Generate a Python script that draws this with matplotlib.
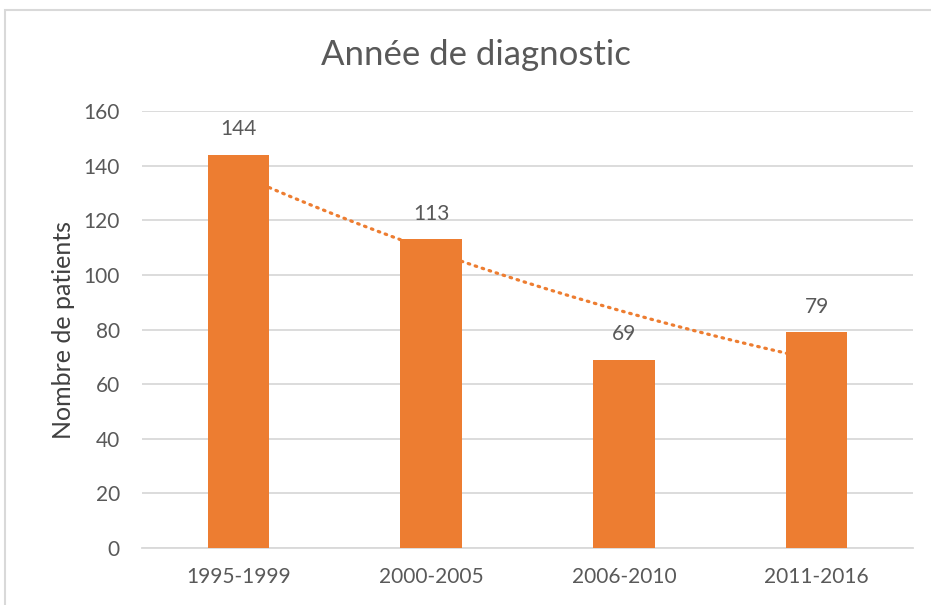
import numpy as np
import matplotlib.pyplot as plt
from matplotlib.patches import Rectangle

# data
periods = ["1995-1999", "2000-2005", "2006-2010", "2011-2016"]
patients = [144, 113, 69, 79]

orange = "#ED7D31"
grey_txt = "#595959"
grid_col = "#D9D9D9"
bar_w = 0.32

plt.rcParams["font.family"] = ["Lato", "DejaVu Sans"]

fig = plt.figure(figsize=(9.31, 6.05), dpi=100)
ax = fig.add_axes([0.1525, 0.0942, 0.8282, 0.7223])

x = np.arange(len(periods))
ax.bar(x, patients, width=bar_w, color=orange, zorder=3)

# exponential trendline (Excel style), hidden behind the bars
k, c = np.polyfit(x + 1, np.log(patients), 1)
xt = np.linspace(bar_w / 2, len(periods) - 1, 200)
ax.plot(xt, np.exp(c + k * (xt + 1)), linestyle=(0, (0.5, 1.8)), color=orange,
        linewidth=2.3, dash_capstyle="round", zorder=2)

for xi, v in zip(x, patients):
    ax.annotate(str(v), (xi, v), xytext=(0, 14), textcoords="offset points",
                ha="center", va="baseline", fontsize=15, color=grey_txt)

ax.set_xlim(-0.5, len(periods) - 0.5)
ax.set_ylim(0, 160)
ax.set_yticks(range(0, 161, 20))
ax.set_xticks(x)
ax.set_xticklabels(periods)
ax.tick_params(axis="both", length=0, labelsize=15, colors=grey_txt)
ax.tick_params(axis="x", pad=14)
ax.tick_params(axis="y", pad=16)
ax.yaxis.grid(True, color=grid_col, linewidth=1.3, zorder=0)
ax.set_axisbelow(True)
for s in ["top", "right", "left"]:
    ax.spines[s].set_visible(False)
ax.spines["bottom"].set_color(grid_col)
ax.spines["bottom"].set_linewidth(1.3)

ax.set_ylabel("Nombre de patients", fontsize=18, color="#404040", labelpad=6)
fig.text(0.511, 0.909, "Année de diagnostic", ha="center", va="center",
         fontsize=25, color=grey_txt)

# chart area border
fig.patches.append(Rectangle((5 / 931, -0.1), 1.2, 1.1 - 10 / 605,
                             transform=fig.transFigure, fill=False,
                             edgecolor="#D9D9D9", linewidth=1.5))

fig.savefig("out.png", dpi=100)
